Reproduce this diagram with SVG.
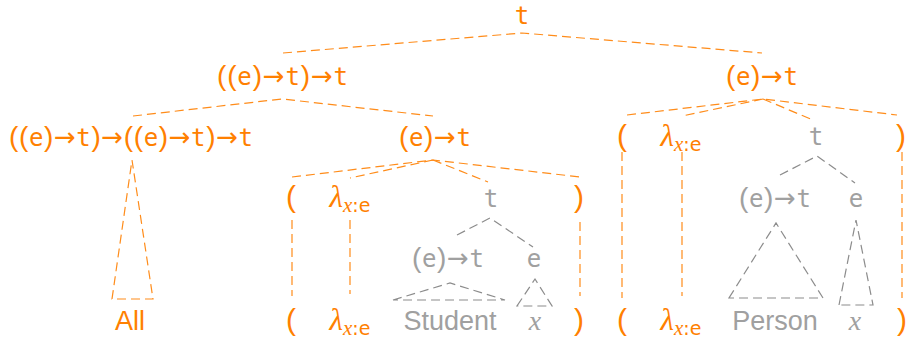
<svg xmlns="http://www.w3.org/2000/svg" width="907" height="339" viewBox="0 0 907 339">
<style>
text { text-anchor: middle; }
.o { fill: #ff8000; }
.g { fill: #a0a0a0; }
.m { font-family: "DejaVu Sans Mono", monospace; font-size: 24px; }
.p { font-family: "Liberation Sans", sans-serif; font-size: 28px; }
.a { font-family: "DejaVu Sans", sans-serif; font-size: 26px; }
.bp { font-family: "Liberation Sans", sans-serif; font-size: 30px; }
.w { font-family: "Liberation Sans", Arial, sans-serif; font-size: 27px; }
.lam { font-family: "Liberation Serif", serif; font-style: italic; font-size: 31px; }
.sx { font-family: "Liberation Serif", serif; font-style: italic; font-size: 21px; }
.se { font-family: "DejaVu Sans", sans-serif; font-size: 19px; }
.vx { font-family: "Liberation Serif", serif; font-style: italic; font-size: 28px; }
.lo { fill: none; stroke: #ff8c1a; stroke-width: 1.2; stroke-dasharray: 9 5; }
.lg { fill: none; stroke: #8c8c8c; stroke-width: 1.2; stroke-dasharray: 9 5; }
</style>
<g id="connectors">
  <polyline class="lo" points="283,53 522,33 762,53"/>
  <polyline class="lo" points="133,116 282,99 433,116"/>
  <polyline class="lo" points="627,115 763,99 897,115"/>
  <line class="lo" x1="763" y1="99" x2="682" y2="116"/>
  <line class="lo" x1="763" y1="99" x2="813" y2="120"/>
  <polyline class="lo" points="292,177 433,160 580,177"/>
  <line class="lo" x1="433" y1="160" x2="350" y2="178"/>
  <line class="lo" x1="433" y1="160" x2="488" y2="182"/>
  <polygon class="lo" points="112,299 132,160 153,299"/>
  <line class="lo" x1="292" y1="220" x2="292" y2="296"/>
  <line class="lo" x1="350" y1="220" x2="350" y2="294"/>
  <line class="lo" x1="580" y1="222" x2="580" y2="296"/>
  <line class="lo" x1="622" y1="152" x2="622" y2="298"/>
  <line class="lo" x1="682" y1="152" x2="682" y2="296"/>
  <line class="lo" x1="902" y1="152" x2="902" y2="298"/>
  <polyline class="lg" points="457,235 490,218 533,247"/>
  <polygon class="lg" points="393,300 450,283 505,300"/>
  <polygon class="lg" points="517,306 535,279 552,306"/>
  <polyline class="lg" points="780,175 817,156 855,183"/>
  <polygon class="lg" points="729,298 776,223 823,298"/>
  <polygon class="lg" points="839,305 856,220 873,305"/>
</g>
<g id="n-root"><text class="o m" x="522" y="24">t</text></g>
<g id="n-det-type"><text class="o" x="282.5" y="85" textLength="131" lengthAdjust="spacing"><tspan class="p">((</tspan><tspan class="m">e</tspan><tspan class="p">)</tspan><tspan class="a">→</tspan><tspan class="m">t</tspan><tspan class="p">)</tspan><tspan class="a">→</tspan><tspan class="m">t</tspan></text></g>
<g id="n-pred-type"><text class="o" x="762" y="85" textLength="72" lengthAdjust="spacing"><tspan class="p">(</tspan><tspan class="m">e</tspan><tspan class="p">)</tspan><tspan class="a">→</tspan><tspan class="m">t</tspan></text></g>
<g id="n-all-type"><text class="o" x="131" y="146" textLength="244" lengthAdjust="spacing"><tspan class="p">((</tspan><tspan class="m">e</tspan><tspan class="p">)</tspan><tspan class="a">→</tspan><tspan class="m">t</tspan><tspan class="p">)</tspan><tspan class="a">→</tspan><tspan class="p">((</tspan><tspan class="m">e</tspan><tspan class="p">)</tspan><tspan class="a">→</tspan><tspan class="m">t</tspan><tspan class="p">)</tspan><tspan class="a">→</tspan><tspan class="m">t</tspan></text></g>
<g id="n-student-type"><text class="o" x="435" y="146" textLength="72" lengthAdjust="spacing"><tspan class="p">(</tspan><tspan class="m">e</tspan><tspan class="p">)</tspan><tspan class="a">→</tspan><tspan class="m">t</tspan></text></g>
<g id="n-r-lpar"><text class="o bp" x="622" y="146">(</text></g>
<g id="n-r-lambda"><text class="o" x="681" y="146"><tspan class="lam">λ</tspan><tspan class="sx" dy="5">x</tspan><tspan class="se">:e</tspan></text></g>
<g id="n-r-t"><text class="g m" x="816" y="145">t</text></g>
<g id="n-r-rpar"><text class="o bp" x="901" y="146">)</text></g>
<g id="n-m-lpar"><text class="o bp" x="291" y="207">(</text></g>
<g id="n-m-lambda"><text class="o" x="350" y="207"><tspan class="lam">λ</tspan><tspan class="sx" dy="5">x</tspan><tspan class="se">:e</tspan></text></g>
<g id="n-m-t"><text class="g m" x="491" y="207">t</text></g>
<g id="n-m-rpar"><text class="o bp" x="579" y="207">)</text></g>
<g id="n-r-pred"><text class="g" x="775" y="207" textLength="72" lengthAdjust="spacing"><tspan class="p">(</tspan><tspan class="m">e</tspan><tspan class="p">)</tspan><tspan class="a">→</tspan><tspan class="m">t</tspan></text></g>
<g id="n-r-e"><text class="g m" x="856" y="207">e</text></g>
<g id="n-m-pred"><text class="g" x="448" y="267" textLength="72" lengthAdjust="spacing"><tspan class="p">(</tspan><tspan class="m">e</tspan><tspan class="p">)</tspan><tspan class="a">→</tspan><tspan class="m">t</tspan></text></g>
<g id="n-m-e"><text class="g m" x="534" y="267">e</text></g>
<g id="n-all"><text class="o w" x="130" y="330">All</text></g>
<g id="n-m-lpar2"><text class="o bp" x="291" y="330">(</text></g>
<g id="n-m-lambda2"><text class="o" x="350" y="330"><tspan class="lam">λ</tspan><tspan class="sx" dy="5">x</tspan><tspan class="se">:e</tspan></text></g>
<g id="n-student"><text class="g w" x="450" y="330">Student</text></g>
<g id="n-m-x"><text class="g vx" x="535" y="330">x</text></g>
<g id="n-m-rpar2"><text class="o bp" x="579" y="330">)</text></g>
<g id="n-r-lpar2"><text class="o bp" x="622" y="330">(</text></g>
<g id="n-r-lambda2"><text class="o" x="681" y="330"><tspan class="lam">λ</tspan><tspan class="sx" dy="5">x</tspan><tspan class="se">:e</tspan></text></g>
<g id="n-person"><text class="g w" x="775" y="330">Person</text></g>
<g id="n-r-x"><text class="g vx" x="855" y="330">x</text></g>
<g id="n-r-rpar2"><text class="o bp" x="902" y="330">)</text></g>
</svg>
